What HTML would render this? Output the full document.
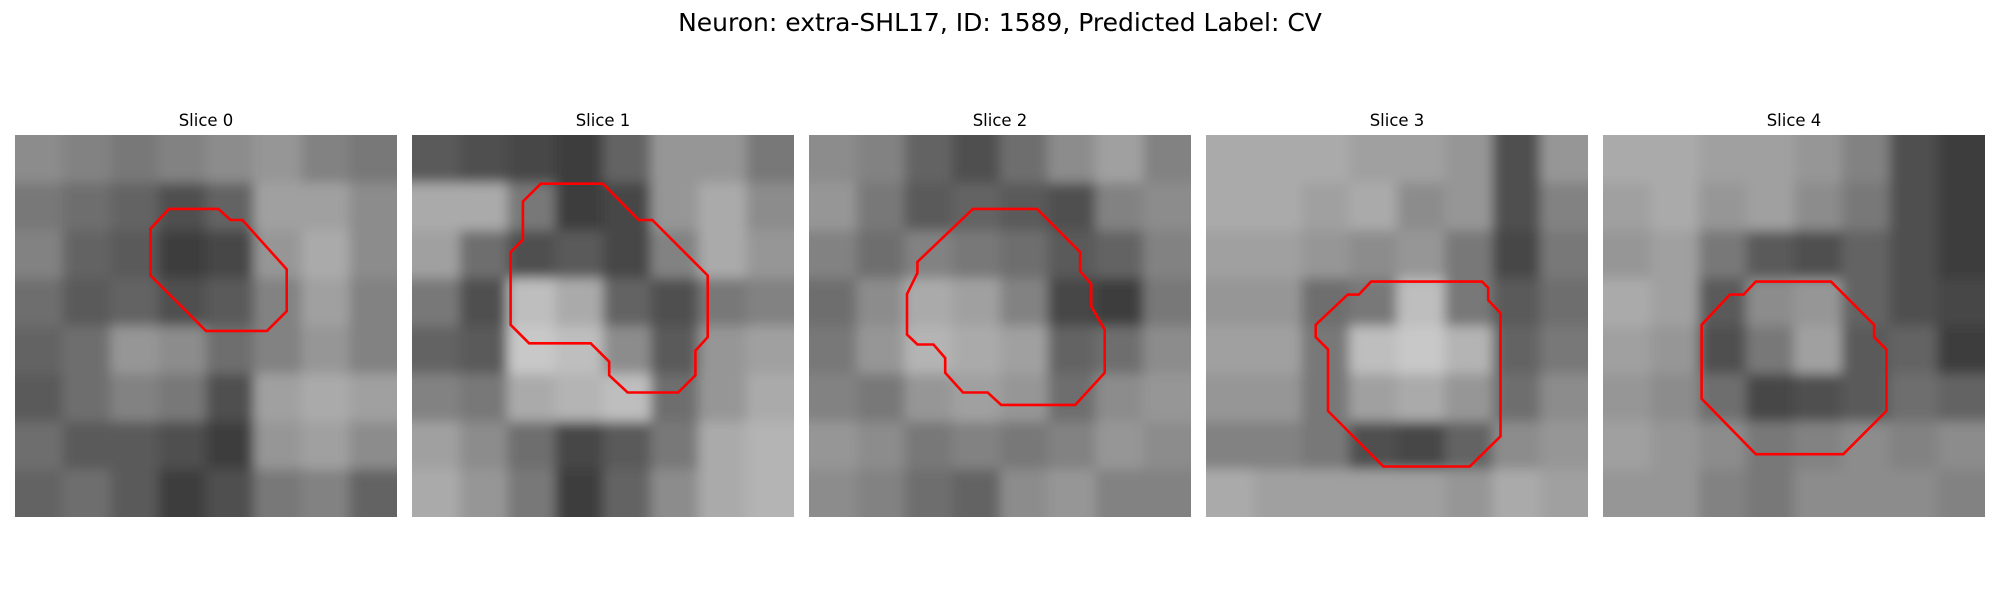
<!DOCTYPE html>
<html><head><meta charset="utf-8"><style>
html,body{margin:0;padding:0;background:#fff}
svg{display:block}
text{font-family:"DejaVu Sans","Liberation Sans",sans-serif;fill:#000}
</style></head><body>
<svg id="fig" width="2000" height="600" viewBox="0 0 2000 600">
<defs><filter id="soft" x="-5%" y="-5%" width="110%" height="110%"><feGaussianBlur stdDeviation="6"/></filter></defs>
<text x="1000" y="31" text-anchor="middle" font-size="25">Neuron: extra-SHL17, ID: 1589, Predicted Label: CV</text>
<g id="panels"></g>
</svg>
<script>
const sliceTitles = ["Slice 0","Slice 1","Slice 2","Slice 3","Slice 4"];
const slice0 = [[140,130,120,130,140,150,130,120],[120,110,100,80,100,160,160,140],[130,100,90,60,70,150,170,140],[110,90,100,80,90,130,160,130],[100,110,150,140,110,130,150,130],[90,110,130,120,80,160,170,160],[110,90,90,80,60,150,160,140],[100,110,90,60,80,120,130,100]];
const slice1 = [[90,80,70,60,100,150,150,120],[170,170,120,60,70,150,170,140],[160,110,80,90,70,130,170,150],[120,80,190,170,100,80,120,130],[100,90,200,190,140,90,150,160],[130,120,170,180,190,110,150,170],[160,140,110,70,90,120,170,180],[170,150,120,60,100,140,170,180]];
const slice2 = [[140,130,100,80,110,140,160,130],[150,120,90,100,90,80,130,140],[130,110,130,120,110,90,100,130],[110,140,170,160,130,70,60,120],[120,150,180,170,160,100,110,140],[130,120,150,160,150,110,140,150],[150,140,120,130,120,130,150,140],[140,130,110,100,140,150,130,130]];
const slice3 = [[170,170,170,160,160,150,80,150],[170,170,160,170,140,150,80,130],[160,160,150,140,150,120,70,120],[150,150,110,120,190,120,90,110],[160,160,120,190,200,180,100,120],[150,150,120,160,170,150,110,140],[130,130,120,80,70,100,140,150],[170,160,160,160,160,150,170,160]];
const slice4 = [[170,170,160,160,150,130,80,60],[160,170,150,160,140,120,80,60],[150,160,120,90,80,100,80,60],[170,160,90,140,150,100,80,70],[160,150,80,120,160,90,100,60],[150,140,110,70,80,90,110,100],[160,150,140,120,130,140,130,140],[150,150,130,120,140,140,140,130]];
const contour0 = [[12.5,6],[16.5,6],[17.5,6.9],[18.45,6.9],[22.05,10.9],[22.05,14.3],[20.45,15.9],[15.5,15.9],[11,11.4],[11,7.6]];
const contour1 = [[10.45,3.95],[15.5,3.95],[18.4,6.9],[19.5,6.9],[24,11.4],[24,16.4],[23,17.5],[23,19.5],[21.6,20.9],[17.5,20.9],[16,19.5],[16,18.4],[14.5,16.9],[9.5,16.9],[8,15.4],[8,9.5],[9,8.5],[9,5.4]];
const contour2 = [[13.3,6],[18.5,6],[22,9.5],[22,11.05],[22.9,12.1],[22.9,13.9],[24,15.8],[24,19.3],[21.6,21.9],[15.6,21.9],[14.5,20.9],[12.5,20.9],[11.05,19.3],[11.05,18.1],[10.1,17],[8.8,17],[7.95,16.2],[7.95,12.9],[8.8,11.2],[8.8,10.3]];
const contour3 = [[13.4,11.9],[22.4,11.9],[22.9,12.4],[22.9,13.4],[23.9,14.45],[23.9,24.45],[21.4,26.9],[14.4,26.9],[9.9,22.4],[9.9,17.4],[8.9,16.4],[8.9,15.4],[11.5,12.95],[12.4,12.95]];
const contour4 = [[12.4,11.9],[18.5,11.9],[22,15.4],[22,16.4],[23,17.4],[23,22.4],[19.5,25.9],[12.4,25.9],[8,21.4],[8,15.4],[10.3,12.95],[11.4,12.95]];
const slices=[slice0,slice1,slice2,slice3,slice4];
const contours=[contour0,contour1,contour2,contour3,contour4];
const NS="http://www.w3.org/2000/svg";
const X0=15, STEP=397, SIZE=382, Y0=135, GRID=31;
const cellPx=SIZE/GRID;
function px(i,c){return X0+i*STEP+c*cellPx;}
function py(r){return Y0+r*cellPx;}
const root=document.getElementById('panels');
const defs=document.querySelector('defs');
slices.forEach((grid,i)=>{
  const g=document.createElementNS(NS,'g');
  
  
  const cp=document.createElementNS(NS,'clipPath');cp.setAttribute('id','cp'+i);
  const cr=document.createElementNS(NS,'rect');
  cr.setAttribute('x',X0+i*STEP);cr.setAttribute('y',Y0);cr.setAttribute('width',SIZE);cr.setAttribute('height',SIZE);
  cp.appendChild(cr);defs.appendChild(cp);
  const t=document.createElementNS(NS,'text');
  t.setAttribute('x',X0+i*STEP+SIZE/2);t.setAttribute('y',126);t.setAttribute('text-anchor','middle');t.setAttribute('font-size','16.5');
  t.textContent=sliceTitles[i];
  
  
  g.appendChild(t);
  const img=document.createElementNS(NS,'g');
  img.setAttribute('clip-path','url(#cp'+i+')');
  
  
  const inner=document.createElementNS(NS,'g');inner.setAttribute('filter','url(#soft)');
  const n=grid.length, cs=SIZE/n;
  grid.forEach((row,r)=>row.forEach((v,c)=>{
    const rc=document.createElementNS(NS,'rect');
    rc.setAttribute('x',X0+i*STEP+c*cs-(c===0?20:0));rc.setAttribute('y',Y0+r*cs-(r===0?20:0));
    rc.setAttribute('width',cs+(c===0||c===n-1?20:0)+0.5);rc.setAttribute('height',cs+(r===0||r===n-1?20:0)+0.5);
    rc.setAttribute('fill','rgb('+v+','+v+','+v+')');
    
    
    inner.appendChild(rc);
  }));
  img.appendChild(inner);g.appendChild(img);
  const pl=document.createElementNS(NS,'polygon');
  pl.setAttribute('points',contours[i].map(p=>px(i,p[0]).toFixed(1)+','+py(p[1]).toFixed(1)).join(' '));
  pl.setAttribute('fill','none');pl.setAttribute('stroke','#ff0000');pl.setAttribute('stroke-width','2.6');pl.setAttribute('stroke-linejoin','miter');
  
  
  g.appendChild(pl);
  root.appendChild(g);
});
</script>
</body></html>
